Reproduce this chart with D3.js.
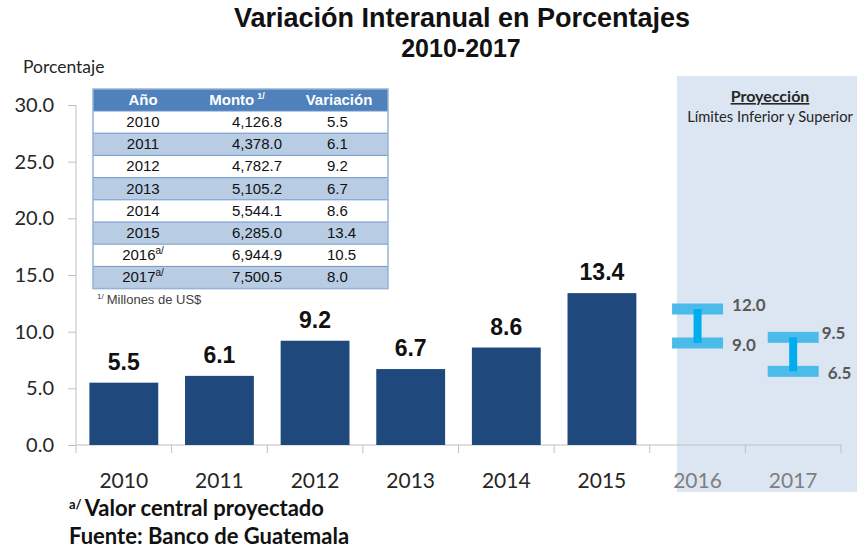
<!DOCTYPE html>
<html>
<head>
<meta charset="utf-8">
<script src="https://cdn.jsdelivr.net/npm/d3@7"></script>
<style>
  body { margin: 0; background: #fff; }
  svg { display: block; }
</style>
</head>
<body>
<svg id="chart" width="859" height="550"></svg>
<script>
// chart data
var years = [ '2010', '2011', '2012', '2013', '2014', '2015', '2016', '2017' ];
var observedYears = [ '2010', '2011', '2012', '2013', '2014', '2015' ];
var observedValues = [ 5.5, 6.1, 9.2, 6.7, 8.6, 13.4 ];
var projYears = [ '2016', '2017' ];
var projLower = [ 9.0, 6.5 ];
var projUpper = [ 12.0, 9.5 ];
var yTicks = [ 0, 5, 10, 15, 20, 25, 30 ];

// inset table data
var tableYears = [ '2010', '2011', '2012', '2013', '2014', '2015', '2016', '2017' ];
var tableNotes = [ '', '', '', '', '', '', 'a/', 'a/' ];
var tableMonto = [ '4,126.8', '4,378.0', '4,782.7', '5,105.2', '5,544.1', '6,285.0', '6,944.9', '7,500.5' ];
var tableVariacion = [ '5.5', '6.1', '9.2', '6.7', '8.6', '13.4', '10.5', '8.0' ];

var CAL = 'Lato, "Open Sans", sans-serif';
var ARIAL = '"Liberation Sans", Arial, sans-serif';

var svg = d3.select( '#chart' );

var x = d3.scaleBand().domain( years ).range( [ 76, 841 ] ).paddingInner( 0.28 ).paddingOuter( 0.14 );
var y = d3.scaleLinear().domain( [ 0, 30 ] ).range( [ 445, 105 ] );

// projection shading
var shadeX = x( '2016' ) + x.bandwidth() * 0.2;
svg.append( 'rect' )
    .attr( 'x', shadeX ).attr( 'y', 76 )
    .attr( 'width', 857 - shadeX ).attr( 'height', 416 )
    .attr( 'fill', '#dce6f2' );

// title
svg.append( 'text' ).attr( 'x', 462 ).attr( 'y', 27 )
    .attr( 'text-anchor', 'middle' ).style( 'font', 'bold 27px ' + ARIAL ).attr( 'fill', '#111' )
    .text( 'Variación Interanual en Porcentajes' );
svg.append( 'text' ).attr( 'x', 461 ).attr( 'y', 57 )
    .attr( 'text-anchor', 'middle' ).style( 'font', 'bold 25px ' + ARIAL ).attr( 'fill', '#111' )
    .text( '2010-2017' );

svg.append( 'text' ).attr( 'x', 23 ).attr( 'y', 73 )
    .style( 'font', '17.5px ' + CAL ).attr( 'fill', '#262626' )
    .text( 'Porcentaje' );

// y axis
var yAxis = svg.append( 'g' ).attr( 'transform', 'translate(76,0)' )
    .call( d3.axisLeft( y ).tickValues( yTicks ).tickFormat( d3.format( '.1f' ) ).tickSize( 8 ).tickPadding( 14 ) );
yAxis.select( '.domain' ).attr( 'stroke', '#bfbfbf' ).attr( 'd', 'M0,105V445' );
yAxis.selectAll( '.tick line' ).attr( 'stroke', '#bfbfbf' );
yAxis.selectAll( '.tick text' ).style( 'font', '20px ' + CAL ).attr( 'fill', '#262626' );

// x axis
var step = x.step();
var xg = svg.append( 'g' );
xg.append( 'line' ).attr( 'x1', 76 ).attr( 'x2', 841 ).attr( 'y1', 445 ).attr( 'y2', 445 ).attr( 'stroke', '#bfbfbf' );
xg.selectAll( 'line.tk' ).data( d3.range( years.length + 1 ) ).join( 'line' )
    .attr( 'class', 'tk' )
    .attr( 'x1', function( i ) { return 76 + i * step; } )
    .attr( 'x2', function( i ) { return 76 + i * step; } )
    .attr( 'y1', 445 ).attr( 'y2', 453 ).attr( 'stroke', '#bfbfbf' );
xg.selectAll( 'text' ).data( years ).join( 'text' )
    .attr( 'x', function( d ) { return x( d ) + x.bandwidth() / 2; } )
    .attr( 'y', 488 )
    .attr( 'text-anchor', 'middle' )
    .style( 'font', '21px ' + CAL )
    .attr( 'fill', function( d ) { return projYears.indexOf( d ) >= 0 ? '#7f7f7f' : '#262626'; } )
    .text( function( d ) { return d; } );

// bars
svg.append( 'g' ).selectAll( 'rect' ).data( observedValues ).join( 'rect' )
    .attr( 'x', function( d, i ) { return x( observedYears[ i ] ); } )
    .attr( 'y', function( d ) { return y( d ); } )
    .attr( 'width', x.bandwidth() )
    .attr( 'height', function( d ) { return y( 0 ) - y( d ); } )
    .attr( 'fill', '#1f497d' );

svg.append( 'g' ).selectAll( 'text' ).data( observedValues ).join( 'text' )
    .attr( 'x', function( d, i ) { return x( observedYears[ i ] ) + x.bandwidth() / 2; } )
    .attr( 'y', function( d ) { return y( d ) - 13; } )
    .attr( 'text-anchor', 'middle' )
    .style( 'font', 'bold 23px ' + ARIAL ).attr( 'fill', '#111' )
    .text( function( d ) { return d.toFixed( 1 ); } );

// projection ranges
var capW = 51, capH = 11, stemW = 8;
var proj = svg.append( 'g' );
projYears.forEach( function( yr, i ) {
    var cx = x( yr ) + x.bandwidth() / 2;
    proj.append( 'rect' ).attr( 'x', cx - capW / 2 ).attr( 'y', y( projUpper[ i ] ) - capH / 2 )
        .attr( 'width', capW ).attr( 'height', capH ).attr( 'fill', '#4bbbea' );
    proj.append( 'rect' ).attr( 'x', cx - capW / 2 ).attr( 'y', y( projLower[ i ] ) - capH / 2 )
        .attr( 'width', capW ).attr( 'height', capH ).attr( 'fill', '#4bbbea' );
    proj.append( 'rect' ).attr( 'x', cx - stemW / 2 ).attr( 'y', y( projUpper[ i ] ) )
        .attr( 'width', stemW ).attr( 'height', y( projLower[ i ] ) - y( projUpper[ i ] ) ).attr( 'fill', '#00aeef' );
    var lx = cx + capW / 2 + ( i === 0 ? 9 : 3 );
    proj.append( 'text' ).attr( 'x', lx ).attr( 'y', y( projUpper[ i ] ) + 2 )
        .style( 'font', 'bold 17px ' + CAL ).attr( 'fill', '#595959' )
        .text( projUpper[ i ].toFixed( 1 ) );
    proj.append( 'text' ).attr( 'x', lx + ( i === 0 ? 0 : 6 ) ).attr( 'y', y( projLower[ i ] ) + 8 )
        .style( 'font', 'bold 17px ' + CAL ).attr( 'fill', '#595959' )
        .text( projLower[ i ].toFixed( 1 ) );
});

svg.append( 'text' ).attr( 'x', 770 ).attr( 'y', 102 ).attr( 'text-anchor', 'middle' )
    .style( 'font', 'bold 16px ' + CAL ).style( 'text-decoration', 'underline' ).attr( 'fill', '#262626' )
    .text( 'Proyección' );
svg.append( 'text' ).attr( 'x', 770 ).attr( 'y', 122 ).attr( 'text-anchor', 'middle' )
    .style( 'font', '14.7px ' + CAL ).attr( 'fill', '#262626' )
    .text( 'Límites Inferior y Superior' );

// inset table
var tx0 = 93, tx1 = 388, headTop = 89, headH = 22, rowH = 22.2;
var table = svg.append( 'g' );
table.append( 'rect' ).attr( 'x', tx0 ).attr( 'y', headTop ).attr( 'width', tx1 - tx0 ).attr( 'height', headH )
    .attr( 'fill', '#4f81bd' );
var rows = table.selectAll( 'g.row' ).data( tableYears ).join( 'g' )
    .attr( 'class', 'row' )
    .attr( 'transform', function( d, i ) { return 'translate(0,' + ( headTop + headH + i * rowH ) + ')'; } );
rows.append( 'rect' ).attr( 'x', tx0 ).attr( 'width', tx1 - tx0 ).attr( 'height', rowH )
    .attr( 'fill', function( d, i ) { return i % 2 ? '#b8cce4' : '#fff'; } );
rows.append( 'line' ).attr( 'x1', tx0 ).attr( 'x2', tx1 ).attr( 'y1', 0 ).attr( 'y2', 0 )
    .attr( 'stroke', '#6f95c8' ).attr( 'stroke-width', 1 );
var yrText = rows.append( 'text' ).attr( 'x', 143 ).attr( 'y', 16 ).attr( 'text-anchor', 'middle' )
    .style( 'font', '15px ' + ARIAL ).attr( 'fill', '#111' );
yrText.append( 'tspan' ).text( function( d ) { return d; } );
yrText.append( 'tspan' ).attr( 'dy', -6 ).style( 'font-size', '10px' )
    .text( function( d, i ) { return tableNotes[ i ]; } );
rows.append( 'text' ).attr( 'x', 282 ).attr( 'y', 16 ).attr( 'text-anchor', 'end' )
    .style( 'font', '15px ' + ARIAL ).attr( 'fill', '#111' )
    .text( function( d, i ) { return tableMonto[ i ]; } );
rows.append( 'text' ).attr( 'x', 327 ).attr( 'y', 16 )
    .style( 'font', '15px ' + ARIAL ).attr( 'fill', '#111' )
    .text( function( d, i ) { return tableVariacion[ i ]; } );
table.append( 'rect' ).attr( 'x', tx0 ).attr( 'y', headTop ).attr( 'width', tx1 - tx0 )
    .attr( 'height', headH + rowH * tableYears.length )
    .attr( 'fill', 'none' ).attr( 'stroke', '#95b3d7' ).attr( 'stroke-width', 1.5 );

var heads = [ [ 'Año', 143 ], [ 'Monto', 237 ], [ 'Variación', 339 ] ];
heads.forEach( function( h ) {
    var t = table.append( 'text' ).attr( 'x', h[ 1 ] ).attr( 'y', headTop + 16 ).attr( 'text-anchor', 'middle' )
        .style( 'font', 'bold 15px ' + ARIAL ).attr( 'fill', '#fff' );
    t.append( 'tspan' ).text( h[ 0 ] );
    if ( h[ 0 ] === 'Monto' ) t.append( 'tspan' ).attr( 'dx', 3 ).attr( 'dy', -6 ).style( 'font-size', '9px' ).text( '1/' );
});

var fn = svg.append( 'text' ).attr( 'x', 97 ).attr( 'y', 304 )
    .style( 'font', '13px ' + ARIAL ).attr( 'fill', '#404040' );
fn.append( 'tspan' ).attr( 'dy', -5 ).style( 'font-size', '8px' ).text( '1/' );
fn.append( 'tspan' ).attr( 'dy', 5 ).attr( 'dx', 3 ).text( 'Millones de US$' );

// footnotes
var f1 = svg.append( 'text' ).attr( 'x', 69 ).attr( 'y', 516 )
    .style( 'font', 'bold 22px ' + CAL ).attr( 'fill', '#111' );
f1.append( 'tspan' ).attr( 'dy', -7 ).style( 'font-size', '13px' ).text( 'a/' );
f1.append( 'tspan' ).attr( 'dy', 7 ).attr( 'dx', 3 ).text( 'Valor central proyectado' );
svg.append( 'text' ).attr( 'x', 69 ).attr( 'y', 544 )
    .style( 'font', 'bold 22px ' + CAL ).attr( 'fill', '#111' )
    .text( 'Fuente: Banco de Guatemala' );
</script>
</body>
</html>
